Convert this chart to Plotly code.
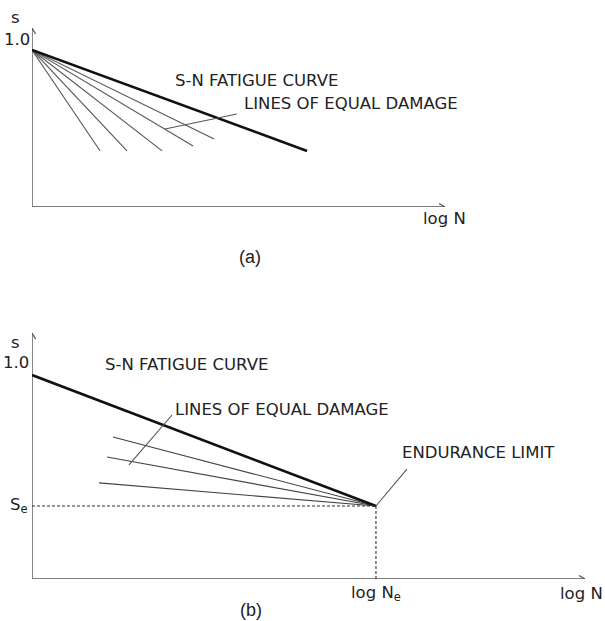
import plotly.graph_objects as go

# ---------------- data (diagram units: x = log N, y = s) ----------------
# panel (a)
a_x_max, a_y_max = 10.0, 1.14
a_origin = [0.0, 1.0]
a_sn_end = [6.66, 0.357]
a_ed_end_x = [1.65, 2.30, 3.15, 3.90, 4.41]
a_ed_end_y = [0.357, 0.357, 0.357, 0.389, 0.433]
a_leader_x = [3.22, 4.96]
a_leader_y = [0.497, 0.592]

# panel (b)
b_x_max, b_y_max = 10.0, 1.206
b_sn_start = [0.0, 1.0]
b_log_Ne = 6.22
b_Se = 0.358
b_ed_start_x = [1.465, 1.356, 1.212]
b_ed_start_y = [0.696, 0.598, 0.471]
b_leader_x = [1.754, 2.532]
b_leader_y = [0.559, 0.804]
b_end_leader_x = [6.22, 6.78]
b_end_leader_y = [0.358, 0.539]

TXT = "#222222"
AX = "#555555"
LBL_FONT = "DejaVu Sans"
LBL_SIZE = 16.5
W, H = 605, 621

dom = {
    "a": dict(x=[32/W, 445/W], y=[1-207/H, 1-28/H], xr=[0, a_x_max], yr=[0, a_y_max],
              xa="x", ya="y"),
    "b": dict(x=[32/W, 585/W], y=[1-579/H, 1-333/H], xr=[0, b_x_max], yr=[0, b_y_max],
              xa="x2", ya="y2"),
}

def to_paper(p, x, y):
    d = dom[p]
    px = d["x"][0] + (x - d["xr"][0]) / (d["xr"][1] - d["xr"][0]) * (d["x"][1] - d["x"][0])
    py = d["y"][0] + (y - d["yr"][0]) / (d["yr"][1] - d["yr"][0]) * (d["y"][1] - d["y"][0])
    return px, py

def px_per_unit(p):
    d = dom[p]
    return ((d["x"][1] - d["x"][0]) * W / (d["xr"][1] - d["xr"][0]),
            (d["y"][1] - d["y"][0]) * H / (d["yr"][1] - d["yr"][0]))

fig = go.Figure()

def line(x, y, p, color="#444444", width=1.2, dash=None):
    d = dom[p]
    fig.add_trace(go.Scatter(x=x, y=y, mode="lines", xaxis=d["xa"], yaxis=d["ya"],
                             line=dict(color=color, width=width, dash=dash),
                             hoverinfo="skip", showlegend=False, cliponaxis=False))

def axes_with_arrows(p):
    d = dom[p]
    kx, ky = px_per_unit(p)
    xm, ym = d["xr"][1], d["yr"][1]
    back, half = 6.0, 3.6
    line([0, xm], [0, 0], p, color=AX, width=1.4)
    line([0, 0], [0, ym], p, color=AX, width=1.4)
    line([xm - back / kx, xm, xm - back / kx], [half / ky, 0, -half / ky], p, color=AX, width=1.2)
    line([-half / kx, 0, half / kx], [ym - back / ky, ym, ym - back / ky], p, color=AX, width=1.2)

# ---- panel (a)
axes_with_arrows("a")
for ex, ey in zip(a_ed_end_x, a_ed_end_y):
    line([a_origin[0], ex], [a_origin[1], ey], "a", color="#555555", width=1.1)
line([a_origin[0], a_sn_end[0]], [a_origin[1], a_sn_end[1]], "a", color="#111111", width=2.6)
line(a_leader_x, a_leader_y, "a", color="#555555", width=1.1)

# ---- panel (b)
axes_with_arrows("b")
for sx, sy in zip(b_ed_start_x, b_ed_start_y):
    line([sx, b_log_Ne], [sy, b_Se], "b", color="#444444", width=1.2)
line([b_sn_start[0], b_log_Ne], [b_sn_start[1], b_Se], "b", color="#111111", width=2.6)
line([0, b_log_Ne], [b_Se, b_Se], "b", color="#333333", width=1.1, dash="3px,2px")
line([b_log_Ne, b_log_Ne], [0, b_Se], "b", color="#333333", width=1.1, dash="3px,2px")
line(b_leader_x, b_leader_y, "b", color="#555555", width=1.1)
line(b_end_leader_x, b_end_leader_y, "b", color="#555555", width=1.1)

ann = []
def text(t, p, x, y, size=LBL_SIZE, xanchor="center", font=LBL_FONT):
    px, py = to_paper(p, x, y)
    ann.append(dict(text=t, x=px, y=py, xref="paper", yref="paper", showarrow=False,
                    xanchor=xanchor, yanchor="middle",
                    font=dict(family=font, size=size, color=TXT)))

# panel (a) texts
text("s", "a", -0.39, 1.204)
text("1.0", "a", -0.36, 1.064)
text("S-N FATIGUE CURVE", "a", 3.41, 0.803, xanchor="left")
text("LINES OF EQUAL DAMAGE", "a", 5.08, 0.662, xanchor="left")
text("log N", "a", 9.98, -0.076)
text("(a)", "a", 5.28, -0.318, size=18, font="Liberation Sans")

# panel (b) texts
text("s", "b", -0.29, 1.157)
text("1.0", "b", -0.56, 1.059, xanchor="left")
text("S<sub>e</sub>", "b", -0.235, b_Se)
text("S-N FATIGUE CURVE", "b", 1.29, 1.054, xanchor="left")
text("LINES OF EQUAL DAMAGE", "b", 2.55, 0.833, xanchor="left")
text("ENDURANCE LIMIT", "b", 6.65, 0.618, xanchor="left")
text("log N<sub>e</sub>", "b", b_log_Ne, -0.069)
text("log N", "b", 10.36, -0.069, xanchor="right")
text("(b)", "b", 3.96, -0.152, size=18, font="Liberation Sans")

hidden = dict(showgrid=False, zeroline=False, showticklabels=False, ticks="",
              showline=False, fixedrange=True)
fig.update_layout(
    width=W, height=H, margin=dict(l=0, r=0, t=0, b=0),
    paper_bgcolor="white", plot_bgcolor="white",
    xaxis=dict(domain=dom["a"]["x"], range=dom["a"]["xr"], anchor="y", **hidden),
    yaxis=dict(domain=dom["a"]["y"], range=dom["a"]["yr"], anchor="x", **hidden),
    xaxis2=dict(domain=dom["b"]["x"], range=dom["b"]["xr"], anchor="y2", **hidden),
    yaxis2=dict(domain=dom["b"]["y"], range=dom["b"]["yr"], anchor="x2", **hidden),
    annotations=ann,
)
fig.write_html("out.html")
